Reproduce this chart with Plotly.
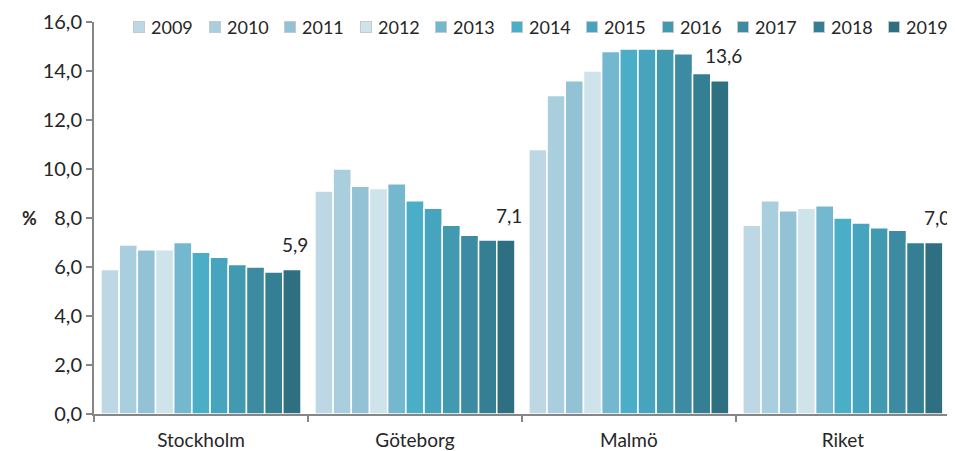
import plotly.graph_objects as go

REGIONS = ['Stockholm', 'Göteborg', 'Malmö', 'Riket']
YEARS = ['2009', '2010', '2011', '2012', '2013', '2014',
         '2015', '2016', '2017', '2018', '2019']

# andel per region och år (%), en lista per år: Stockholm, Göteborg, Malmö, Riket
V2009 = [5.9, 9.1, 10.8, 7.7]
V2010 = [6.9, 10.0, 13.0, 8.7]
V2011 = [6.7, 9.3, 13.6, 8.3]
V2012 = [6.7, 9.2, 14.0, 8.4]
V2013 = [7.0, 9.4, 14.8, 8.5]
V2014 = [6.6, 8.7, 14.9, 8.0]
V2015 = [6.4, 8.4, 14.9, 7.8]
V2016 = [6.1, 7.7, 14.9, 7.6]
V2017 = [6.0, 7.3, 14.7, 7.5]
V2018 = [5.8, 7.1, 13.9, 7.0]
V2019 = [5.9, 7.1, 13.6, 7.0]
VALUES = [V2009, V2010, V2011, V2012, V2013, V2014,
          V2015, V2016, V2017, V2018, V2019]

COLORS = ['#BDD8E4', '#A9CEDD', '#92C2D4', '#CFE3EB', '#74B8CF', '#4AAEC7',
          '#46A4BE', '#429AB1', '#3D8BA2', '#357F95', '#2E6F81']

FONT = 'Lato, sans-serif'
GRAY = '#868686'
TXT = '#262626'

# sidan har 8 px marginal i body, så figuren görs 8 px mindre
W, H = 947, 443
ML, MR, MT, MB = 86, 3, 14, 37
PW = W - ML - MR
PH = H - MT - MB

fig = go.Figure()
for year, vals, col in zip(YEARS, VALUES, COLORS):
    fig.add_trace(go.Bar(x=REGIONS, y=vals, name=year,
                         marker=dict(color=col, line=dict(color='white', width=1.5))))

# etikett över sista stapeln (2019) i varje grupp
for i, v in enumerate(V2019):
    fig.add_annotation(x=i + 0.44, y=v, xref='x', yref='y',
                       text=f'{v:.1f}'.replace('.', ','), showarrow=False,
                       yshift=25, font=dict(family=FONT, size=19, color=TXT))

fig.add_annotation(x=-0.086, y=8, xref='paper', yref='y', text='<b>%</b>',
                   showarrow=False, font=dict(family=FONT, size=18, color=TXT))

# teckenförklaring i en rad överst (ruta + årtal)
leg_y = 1 - (19 - MT) / PH
for k, (year, col) in enumerate(zip(YEARS, COLORS)):
    x0 = 131 + 75.5 * k
    fig.add_annotation(x=(x0 - ML) / PW, y=leg_y, xref='paper', yref='paper',
                       text=' ', showarrow=False, width=8, height=8,
                       bgcolor=col, bordercolor='#C8C8C8', borderwidth=1,
                       borderpad=1, xanchor='center', yanchor='middle',
                       font=dict(size=4))
    fig.add_annotation(x=(x0 + 10 - ML) / PW, y=leg_y, xref='paper', yref='paper',
                       text=year, showarrow=False, xanchor='left', yanchor='middle',
                       font=dict(family=FONT, size=18, color=TXT))

fig.update_layout(
    width=W, height=H,
    margin=dict(l=ML, r=MR, t=MT, b=MB),
    paper_bgcolor='white', plot_bgcolor='white',
    barmode='group', bargap=0.065, bargroupgap=0,
    separators=', ',
    font=dict(family=FONT, size=20, color=TXT),
    showlegend=False,
    xaxis=dict(showline=True, linecolor=GRAY, linewidth=2, ticks='outside',
               tickson='boundaries', ticklen=6, tickcolor=GRAY, tickwidth=2,
               showgrid=False, tickfont=dict(size=19), ticklabelstandoff=8,
               automargin=False),
    yaxis=dict(range=[0, 16], dtick=2, tickformat='.1f', showline=True,
               linecolor=GRAY, linewidth=2, ticks='outside', ticklen=6,
               tickcolor=GRAY, tickwidth=2, showgrid=False, zeroline=False,
               tickfont=dict(size=20), automargin=False),
)

fig.write_html('out.html')
